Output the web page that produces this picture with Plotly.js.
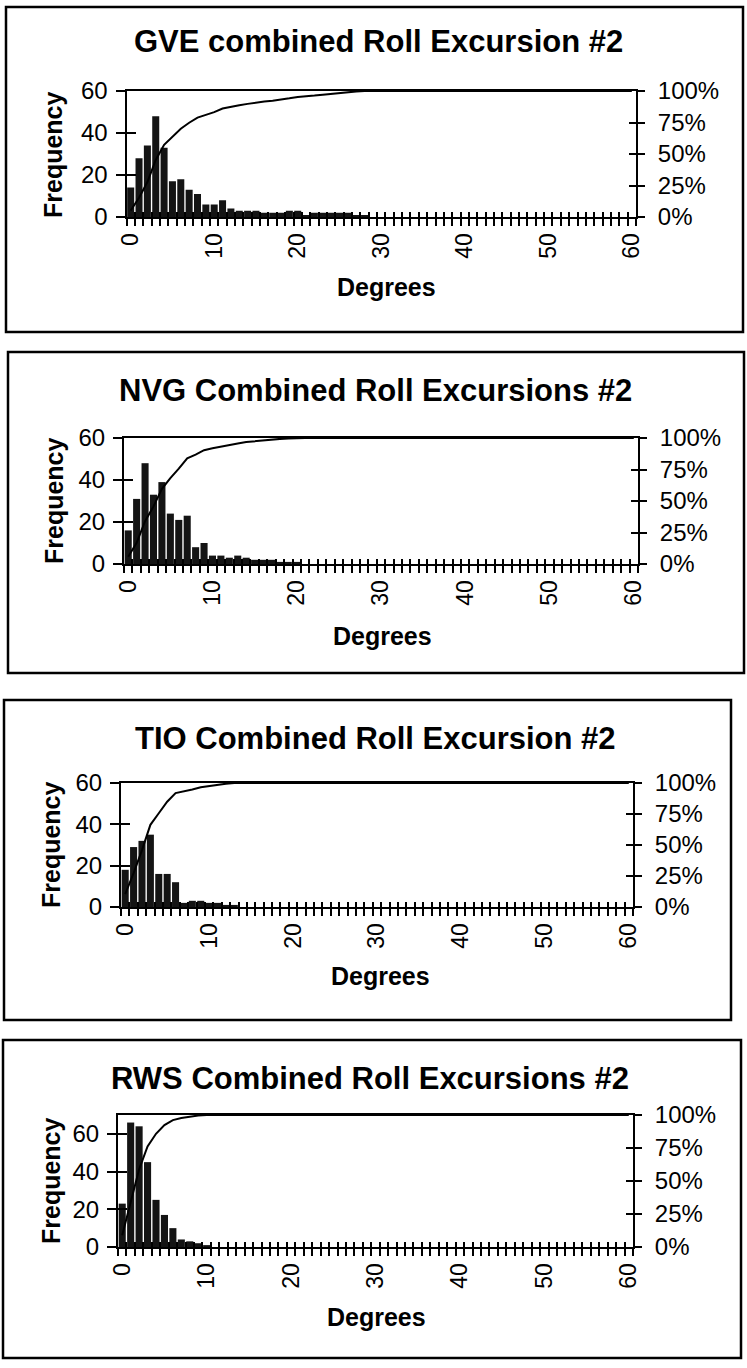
<!DOCTYPE html>
<html>
<head>
<meta charset="utf-8">
<script src="https://cdn.plot.ly/plotly-3.0.1.min.js"></script>
<style>
html,body{margin:0;padding:0;background:#fff;}
#chart{width:747px;height:1368px;}
</style>
</head>
<body>
<div id="chart"></div>
<script>
// ---------- data ----------
const degrees = [0,1,2,3,4,5,6,7,8,9,10,11,12,13,14,15,16,17,18,19,20,21,22,23,24,25,26,27,28,29,30,
  31,32,33,34,35,36,37,38,39,40,41,42,43,44,45,46,47,48,49,50,51,52,53,54,55,56,57,58,59,60];

const gveFreq = [14,28,34,48,33,17,18,13,11,6,6,8,4,3,3,3,2,2,2,3,3,1,2,2,2,2,2,1,1,0,0,
  0,0,0,0,0,0,0,0,0,0,0,0,0,0,0,0,0,0,0,0,0,0,0,0,0,0,0,0,0,0];
const nvgFreq = [16,31,48,33,39,24,21,23,8,10,4,4,3,4,3,2,2,2,1,1,1,0,0,0,0,0,0,0,0,0,0,
  0,0,0,0,0,0,0,0,0,0,0,0,0,0,0,0,0,0,0,0,0,0,0,0,0,0,0,0,0,0];
const tioFreq = [18,29,32,35,16,16,12,2,3,3,2,2,1,1,0,0,0,0,0,0,0,0,0,0,0,0,0,0,0,0,0,
  0,0,0,0,0,0,0,0,0,0,0,0,0,0,0,0,0,0,0,0,0,0,0,0,0,0,0,0,0,0];
const rwsFreq = [23,66,64,45,25,17,10,4,3,2,1,0,0,0,0,0,0,0,0,0,0,0,0,0,0,0,0,0,0,0,0,
  0,0,0,0,0,0,0,0,0,0,0,0,0,0,0,0,0,0,0,0,0,0,0,0,0,0,0,0,0,0];

const chartTitles = ['GVE combined Roll Excursion #2','NVG Combined Roll Excursions #2',
  'TIO Combined Roll Excursion #2','RWS Combined Roll Excursions #2'];
const xTickVals = [0,10,20,30,40,50,60];
const xTickText = ['0','10','20','30','40','50','60'];
const leftTickVals = [0,20,40,60];
const rightTickVals = [0,0.25,0.5,0.75,1];
const rightTickText = ['0%','25%','50%','75%','100%'];
const freqMax = [60,60,60,70];
const xLabel = 'Degrees';
const yLabel = 'Frequency';

// ---------- layout geometry (pixels) ----------
const W = 747, H = 1368;
const geo = [
  {L:126.5,R:636,T:91,B:217, box:[6,7,743,332], tx:378, ty:42, dx:386, dy:287, fx:53},
  {L:124,R:638,T:438,B:564, box:[8,352,744,673], tx:375, ty:390, dx:382, dy:636, fx:54},
  {L:121,R:633,T:783,B:907, box:[4,700,731,1020], tx:375, ty:738, dx:380, dy:976, fx:51},
  {L:118,R:633,T:1115,B:1247, box:[3,1040,741,1358], tx:370, ty:1078, dx:376, dy:1317, fx:51}
];
const px = v => v / W;
const py = v => 1 - v / H;

const series = [gveFreq, nvgFreq, tioFreq, rwsFreq];
const FONT = '"Liberation Sans", Arial, sans-serif';
const boundaries = degrees.map(d => d - 0.5).concat([degrees[degrees.length-1] + 0.5]);
const xRange = [boundaries[0], boundaries[boundaries.length-1]];

const traces = [];
const layout = {
  width: W, height: H,
  margin: {l:0, r:0, t:0, b:0},
  paper_bgcolor: '#fff', plot_bgcolor: 'rgba(0,0,0,0)',
  showlegend: false,
  bargap: 0.16,
  font: {family: FONT, color: '#000', size: 24},
  annotations: [], shapes: []
};

series.forEach((freq, i) => {
  const g = geo[i];
  const k = i * 7;
  const xm = k + 1, xo = k + 2, xi = k + 3;
  const yl = k + 1, yr = k + 2, yli = k + 3, yri = k + 4;
  const id = n => (n === 1 ? '' : n);
  const xd = [px(g.L), px(g.R)];
  const yd = [py(g.B), py(g.T)];

  const total = freq.reduce((a, b) => a + b, 0);
  let run = 0;
  const cum = freq.map(v => { run += v; return run / total; });

  traces.push({type:'bar', x: degrees, y: freq, xaxis:'x'+id(xm), yaxis:'y'+id(yl),
    marker:{color:'#141414', line:{width:0}}, hoverinfo:'skip'});
  traces.push({type:'scatter', mode:'lines', x: degrees, y: cum, xaxis:'x'+id(xm), yaxis:'y'+id(yr),
    line:{color:'#000', width:2}, hoverinfo:'skip'});
  traces.push({type:'scatter', x:[], y:[], xaxis:'x'+id(xo), yaxis:'y'+id(yli), hoverinfo:'skip'});
  traces.push({type:'scatter', x:[], y:[], xaxis:'x'+id(xi), yaxis:'y'+id(yri), hoverinfo:'skip'});

  const base = {showgrid:false, zeroline:false, fixedrange:true};
  layout['xaxis'+id(xm)] = Object.assign({}, base, {
    domain: xd, range: xRange, anchor:'y'+id(yl),
    showline:true, linecolor:'#000', linewidth:2, mirror:true,
    tickmode:'array', tickvals:xTickVals, ticktext:xTickText, ticks:'',
    tickangle:-90, ticklabelstandoff:5, tickfont:{family:FONT, size:23, color:'#000'}
  });
  layout['xaxis'+id(xo)] = Object.assign({}, base, {
    overlaying:'x'+id(xm), anchor:'y'+id(yl), range: xRange,
    showline:false, tickmode:'array', tickvals:boundaries, showticklabels:false,
    ticks:'outside', ticklen:8, tickwidth:2, tickcolor:'#000'
  });
  layout['xaxis'+id(xi)] = Object.assign({}, base, {
    overlaying:'x'+id(xm), anchor:'y'+id(yl), range: xRange,
    showline:false, tickmode:'array', tickvals:boundaries, showticklabels:false,
    ticks:'inside', ticklen:5, tickwidth:2, tickcolor:'#000'
  });
  layout['yaxis'+id(yl)] = Object.assign({}, base, {
    domain: yd, range:[0, freqMax[i]], anchor:'x'+id(xm),
    showline:true, linecolor:'#000', linewidth:2,
    tickmode:'array', tickvals:leftTickVals, ticks:'outside', ticklen:9, tickwidth:2, tickcolor:'#000',
    ticklabelstandoff:3, tickfont:{family:FONT, size:24, color:'#000'}
  });
  layout['yaxis'+id(yli)] = Object.assign({}, base, {
    overlaying:'y'+id(yl), anchor:'x'+id(xm), range:[0, freqMax[i]],
    showline:false, tickmode:'array', tickvals:leftTickVals, showticklabels:false,
    ticks:'inside', ticklen:9, tickwidth:2, tickcolor:'#000'
  });
  layout['yaxis'+id(yr)] = Object.assign({}, base, {
    overlaying:'y'+id(yl), anchor:'x'+id(xm), side:'right', range:[0, 1],
    showline:true, linecolor:'#000', linewidth:2,
    tickmode:'array', tickvals:rightTickVals, ticktext:rightTickText,
    ticks:'outside', ticklen:7, tickwidth:2, tickcolor:'#000',
    ticklabelstandoff:8, tickfont:{family:FONT, size:24, color:'#000'}
  });
  layout['yaxis'+id(yri)] = Object.assign({}, base, {
    overlaying:'y'+id(yl), anchor:'x'+id(xm), side:'right', range:[0, 1],
    showline:false, tickmode:'array', tickvals:rightTickVals, showticklabels:false,
    ticks:'inside', ticklen:7, tickwidth:2, tickcolor:'#000'
  });

  layout.annotations.push({text: chartTitles[i], xref:'paper', yref:'paper',
    x: px(g.tx), y: py(g.ty), xanchor:'center', yanchor:'middle', showarrow:false,
    font:{family:FONT, size:31, color:'#000', weight:'bold'}});
  layout.annotations.push({text: xLabel, xref:'paper', yref:'paper',
    x: px(g.dx), y: py(g.dy), xanchor:'center', yanchor:'middle', showarrow:false,
    font:{family:FONT, size:25, color:'#000', weight:'bold'}});
  layout.annotations.push({text: yLabel, xref:'paper', yref:'paper', textangle:-90,
    x: px(g.fx), y: py((g.T + g.B) / 2), xanchor:'center', yanchor:'middle', showarrow:false,
    font:{family:FONT, size:25, color:'#000', weight:'bold'}});
  layout.shapes.push({type:'rect', xref:'paper', yref:'paper',
    x0: px(g.box[0]), x1: px(g.box[2]), y0: py(g.box[3]), y1: py(g.box[1]),
    line:{color:'#000', width:2.5}, fillcolor:'rgba(0,0,0,0)'});
});

Plotly.newPlot('chart', traces, layout, {staticPlot:true, displayModeBar:false});
</script>
</body>
</html>
